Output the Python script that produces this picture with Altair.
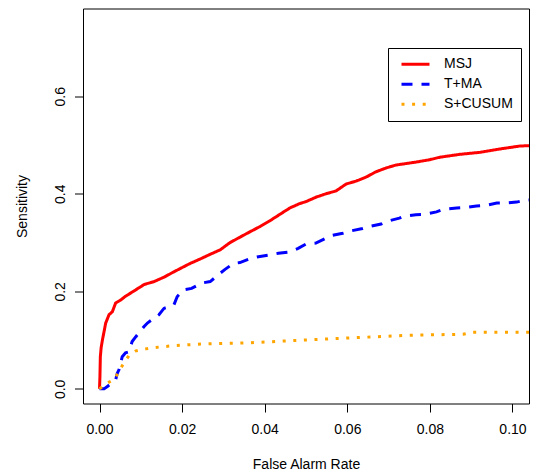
import altair as alt
import pandas as pd

series_names = ["MSJ", "T+MA", "S+CUSUM"]
series_colors = ["#FF0000", "#0000FF", "#FFA500"]
series_dash = [[1, 0], [11, 9], [3, 7.6]]

msj_far = [0, 0.0001, 0.0002, 0.0004, 0.0007, 0.0015, 0.0023, 0.0031, 0.0039, 0.0051, 0.0063, 0.0084,
           0.0108, 0.0132, 0.0156, 0.018, 0.0203, 0.0219, 0.0243, 0.0268, 0.0292, 0.0316, 0.034, 0.0364,
           0.0389, 0.0413, 0.0437, 0.0461, 0.0485, 0.05, 0.0524, 0.0548, 0.0573, 0.0597, 0.0621, 0.0645,
           0.0669, 0.0694, 0.0718, 0.0742, 0.0766, 0.08, 0.0824, 0.0873, 0.0921, 0.097, 0.1018, 0.105]
msj_sens = [0, 0.025, 0.066, 0.085, 0.10, 0.135, 0.152, 0.158, 0.176, 0.182, 0.19, 0.201,
            0.214, 0.220, 0.229, 0.240, 0.25, 0.257, 0.266, 0.276, 0.285, 0.30, 0.311, 0.322,
            0.333, 0.345, 0.358, 0.371, 0.380, 0.384, 0.393, 0.40, 0.406, 0.42, 0.426, 0.434,
            0.445, 0.453, 0.459, 0.462, 0.465, 0.47, 0.475, 0.481, 0.485, 0.492, 0.498, 0.499]

tma_far = [0, 0.0011, 0.0019, 0.0039, 0.0043, 0.0047, 0.0055, 0.0063, 0.0071, 0.0079, 0.0088, 0.0108,
           0.0116, 0.0144, 0.0156, 0.018, 0.0188, 0.0203, 0.0223, 0.0247, 0.0268, 0.0292, 0.0304, 0.0324,
           0.034, 0.0368, 0.0385, 0.0413, 0.0433, 0.0461, 0.0481, 0.05, 0.0524, 0.0548, 0.056, 0.0589,
           0.0609, 0.0637, 0.0653, 0.0682, 0.0694, 0.0726, 0.0738, 0.0766, 0.0788, 0.0816, 0.0832, 0.0865,
           0.0885, 0.0913, 0.0933, 0.0962, 0.0982, 0.101, 0.103, 0.105]
tma_sens = [0, 0, 0.005, 0.018, 0.032, 0.039, 0.066, 0.074, 0.076, 0.097, 0.107, 0.128,
            0.135, 0.152, 0.165, 0.172, 0.189, 0.203, 0.206, 0.217, 0.22, 0.237, 0.245, 0.257,
            0.259, 0.268, 0.271, 0.275, 0.278, 0.281, 0.288, 0.297, 0.299, 0.309, 0.314, 0.319,
            0.324, 0.329, 0.333, 0.338, 0.343, 0.35, 0.354, 0.357, 0.358, 0.363, 0.368, 0.371,
            0.372, 0.375, 0.376, 0.381, 0.381, 0.383, 0.387, 0.388]

cus_far = [0, 0.0019, 0.0037, 0.0046, 0.0059, 0.0071, 0.0088, 0.0112, 0.0136, 0.016, 0.0186, 0.025,
           0.035, 0.0469, 0.0495, 0.062, 0.0749, 0.088, 0.0904, 0.105]
cus_sens = [0, 0.012, 0.02, 0.035, 0.053, 0.068, 0.078, 0.082, 0.085, 0.087, 0.089, 0.092,
            0.094, 0.099, 0.10, 0.105, 0.11, 0.112, 0.116, 0.116]

x_ticks = [0, 0.02, 0.04, 0.06, 0.08, 0.10]
y_ticks = [0.0, 0.2, 0.4, 0.6]

rows = []
for name, fx, sy in zip(series_names, [msj_far, tma_far, cus_far], [msj_sens, tma_sens, cus_sens]):
    for i, (a, b) in enumerate(zip(fx, sy)):
        rows.append({"method": name, "far": a, "sens": b, "idx": i})
df = pd.DataFrame(rows)

FONT = "Liberation Sans"

chart = alt.Chart(df).mark_line(clip=True, strokeWidth=3).encode(
    x=alt.X("far:Q", scale=alt.Scale(domain=[-0.004, 0.104], nice=False, zero=False),
            axis=alt.Axis(values=x_ticks, format=".2f", title="False Alarm Rate",
                          titleX=223, titleY=64.5, titleBaseline="alphabetic", titleAnchor="middle")),
    y=alt.Y("sens:Q", scale=alt.Scale(domain=[-0.03, 0.78], nice=False, zero=False),
            axis=alt.Axis(values=y_ticks, format=".1f", title="Sensitivity",
                          labelAngle=270, labelAlign="center", labelBaseline="alphabetic",
                          titleAngle=270, titleX=-56.5, titleY=197.5, titleBaseline="alphabetic",
                          titleAlign="center")),
    color=alt.Color("method:N", title=None,
                    scale=alt.Scale(domain=series_names, range=series_colors),
                    legend=alt.Legend(orient="none", legendX=305, legendY=39.5, direction="vertical",
                                      strokeColor="black", padding=7.3, symbolType="stroke",
                                      symbolSize=784, symbolStrokeWidth=3, clipHeight=18,
                                      symbolOffset=4.7, labelOffset=13, labelFontSize=14,
                                      labelFont=FONT, labelColor="black", fillColor="white")),
    strokeDash=alt.StrokeDash("method:N", title=None,
                              scale=alt.Scale(domain=series_names, range=series_dash)),
    order="idx:Q",
).properties(
    width=446, height=395,
    autosize=alt.AutoSizeParams(type="none"),
    padding={"left": 83, "top": 8.5, "right": 5, "bottom": 71.5},
).configure_view(
    stroke="black", strokeWidth=1
).configure_axis(
    grid=False, domain=False, tickColor="black", tickSize=8.5, tickWidth=1,
    labelFont=FONT, labelFontSize=14, labelColor="black", labelPadding=10.5,
    titleFont=FONT, titleFontSize=14, titleColor="black", titleFontWeight="normal",
)

chart.save("out.html", embed_options={"renderer": "svg", "actions": False})
